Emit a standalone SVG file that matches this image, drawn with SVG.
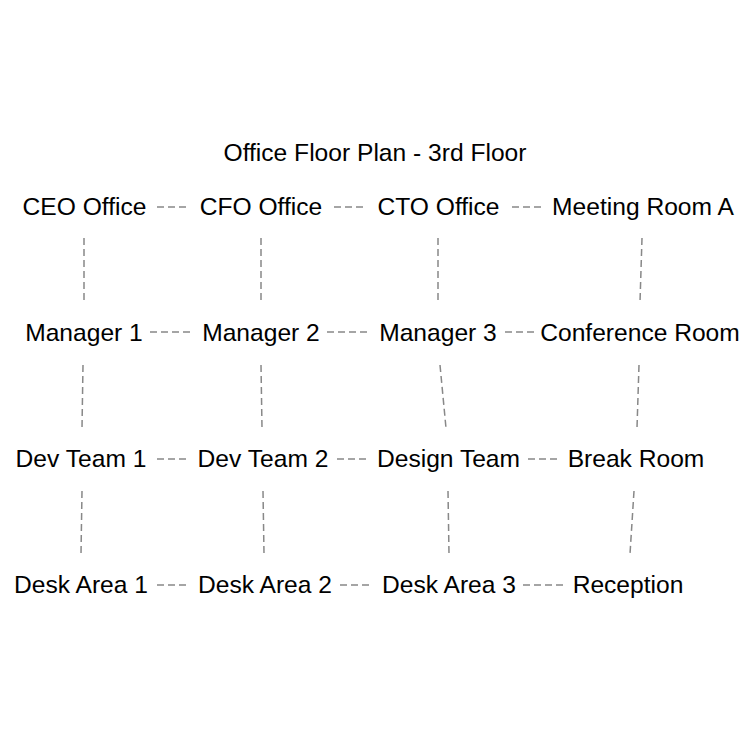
<svg xmlns="http://www.w3.org/2000/svg" width="750" height="750" viewBox="0 0 750 750">
<style>
text{font-family:"Liberation Sans",Arial,sans-serif;font-size:24.6px;fill:#000;text-anchor:middle}
.c line{stroke:#888;stroke-width:1.5;stroke-dasharray:7,4;fill:none}
</style>
<rect width="750" height="750" fill="#fff"/>
<text id="title" x="375" y="161">Office Floor Plan - 3rd Floor</text>
<g id="connectors" class="c">
<line x1="157" y1="207" x2="186" y2="207"/>
<line x1="334" y1="207" x2="366" y2="207"/>
<line x1="512" y1="207" x2="544" y2="207"/>
<line x1="150" y1="332" x2="194" y2="332"/>
<line x1="327" y1="332" x2="371" y2="332"/>
<line x1="505" y1="332" x2="537" y2="332"/>
<line x1="157" y1="459" x2="189" y2="459"/>
<line x1="337" y1="459" x2="369" y2="459"/>
<line x1="528" y1="459" x2="560" y2="459"/>
<line x1="157" y1="585" x2="189" y2="585"/>
<line x1="340" y1="585" x2="372" y2="585"/>
<line x1="523" y1="585" x2="566" y2="585"/>
<line x1="84" y1="238" x2="84" y2="302"/>
<line x1="83" y1="365" x2="82" y2="428"/>
<line x1="82" y1="491" x2="81" y2="554"/>
<line x1="261" y1="238" x2="261" y2="302"/>
<line x1="261" y1="365" x2="262" y2="428"/>
<line x1="263" y1="491" x2="264" y2="554"/>
<line x1="438" y1="238" x2="438" y2="302"/>
<line x1="440" y1="365" x2="446" y2="428"/>
<line x1="448" y1="491" x2="449" y2="554"/>
<line x1="642" y1="238" x2="640" y2="302"/>
<line x1="639" y1="365" x2="637" y2="428"/>
<line x1="634" y1="491" x2="630" y2="554"/>
</g>
<g id="ceo"><text x="84.5" y="215">CEO Office</text></g>
<g id="cfo"><text x="261" y="215">CFO Office</text></g>
<g id="cto"><text x="438.5" y="215">CTO Office</text></g>
<g id="meetingA"><text x="643" y="215">Meeting Room A</text></g>
<g id="manager1"><text x="84" y="341">Manager 1</text></g>
<g id="manager2"><text x="261" y="341">Manager 2</text></g>
<g id="manager3"><text x="438" y="341">Manager 3</text></g>
<g id="conference"><text x="640" y="341">Conference Room</text></g>
<g id="dev1"><text x="81" y="467">Dev Team 1</text></g>
<g id="dev2"><text x="263" y="467">Dev Team 2</text></g>
<g id="design"><text x="448.5" y="467">Design Team</text></g>
<g id="break"><text x="636" y="467">Break Room</text></g>
<g id="desk1"><text x="81" y="593">Desk Area 1</text></g>
<g id="desk2"><text x="265" y="593">Desk Area 2</text></g>
<g id="desk3"><text x="449" y="593">Desk Area 3</text></g>
<g id="reception"><text x="628" y="593">Reception</text></g>
</svg>
